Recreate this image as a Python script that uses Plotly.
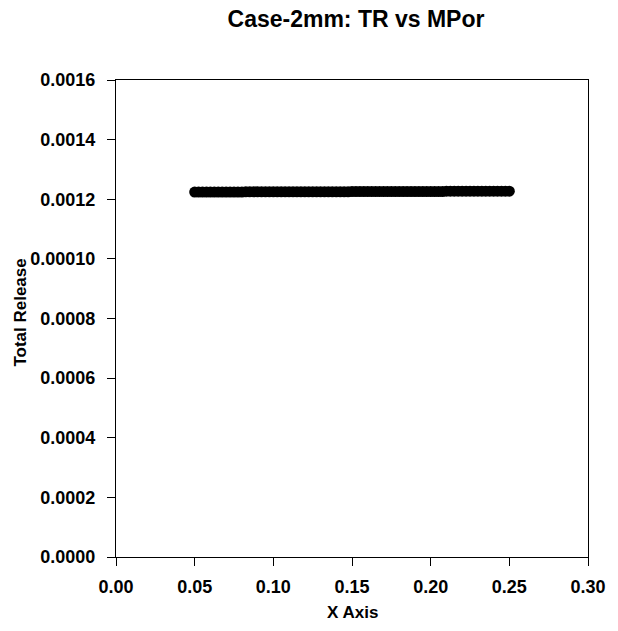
import plotly.graph_objects as go

# Data (Total Release vs porosity)
mpor = [0.0500, 0.0525, 0.0550, 0.0575, 0.0600, 0.0625, 0.0650, 0.0675, 0.0700, 0.0725,
        0.0750, 0.0775, 0.0800, 0.0825, 0.0850, 0.0875, 0.0900, 0.0925, 0.0950, 0.0975,
        0.1000, 0.1025, 0.1050, 0.1075, 0.1100, 0.1125, 0.1150, 0.1175, 0.1200, 0.1225,
        0.1250, 0.1275, 0.1300, 0.1325, 0.1350, 0.1375, 0.1400, 0.1425, 0.1450, 0.1475,
        0.1500, 0.1525, 0.1550, 0.1575, 0.1600, 0.1625, 0.1650, 0.1675, 0.1700, 0.1725,
        0.1750, 0.1775, 0.1800, 0.1825, 0.1850, 0.1875, 0.1900, 0.1925, 0.1950, 0.1975,
        0.2000, 0.2025, 0.2050, 0.2075, 0.2100, 0.2125, 0.2150, 0.2175, 0.2200, 0.2225,
        0.2250, 0.2275, 0.2300, 0.2325, 0.2350, 0.2375, 0.2400, 0.2425, 0.2450, 0.2475,
        0.2500]
total_release = [0.001224, 0.001224, 0.001224, 0.001224, 0.001224, 0.001224, 0.001224, 0.001224, 0.001224, 0.001224,
                 0.001224, 0.001224, 0.001224, 0.001225, 0.001225, 0.001225, 0.001225, 0.001225, 0.001225, 0.001225,
                 0.001225, 0.001225, 0.001225, 0.001225, 0.001225, 0.001225, 0.001225, 0.001225, 0.001225, 0.001225,
                 0.001225, 0.001225, 0.001225, 0.001225, 0.001225, 0.001225, 0.001225, 0.001225, 0.001225, 0.001225,
                 0.001226, 0.001226, 0.001226, 0.001226, 0.001226, 0.001226, 0.001226, 0.001226, 0.001226, 0.001226,
                 0.001226, 0.001226, 0.001226, 0.001226, 0.001226, 0.001226, 0.001226, 0.001226, 0.001226, 0.001226,
                 0.001226, 0.001226, 0.001226, 0.001226, 0.001227, 0.001227, 0.001227, 0.001227, 0.001227, 0.001227,
                 0.001227, 0.001227, 0.001227, 0.001227, 0.001227, 0.001227, 0.001227, 0.001227, 0.001227, 0.001227,
                 0.001227]

x_ticks = [0.00, 0.05, 0.10, 0.15, 0.20, 0.25, 0.30]
x_ticktext = ["0.00", "0.05", "0.10", "0.15", "0.20", "0.25", "0.30"]
y_ticks = [0.0000, 0.0002, 0.0004, 0.0006, 0.0008, 0.0010, 0.0012, 0.0014, 0.0016]
y_ticktext = ["0.0000", "0.0002", "0.0004", "0.0006", "0.0008", "0.00010", "0.0012", "0.0014", "0.0016"]

FONT = "Liberation Sans, Arial, sans-serif"

fig = go.Figure()
fig.add_trace(go.Scatter(
    x=mpor, y=total_release, mode="markers",
    marker=dict(size=11, color="black", line=dict(width=0)),
    showlegend=False, hoverinfo="x+y",
))

W, H = 618, 631
L, R, T, B = 116, 27, 80, 74
pw, ph = W - L - R, H - T - B

axis_common = dict(
    showgrid=False, zeroline=False, showline=True, linecolor="black", linewidth=1,
    mirror=True, ticks="outside", ticklen=8, tickcolor="black", tickwidth=1,
    tickfont=dict(family=FONT, size=18, color="black", weight="bold"),
)

fig.update_layout(
    width=W, height=H,
    margin=dict(l=L, r=R, t=T, b=B, pad=0),
    paper_bgcolor="white", plot_bgcolor="white",
    title=dict(text="Case-2mm: TR vs MPor", x=356 / W, xanchor="center",
               y=1 - 19 / H, yanchor="middle", xref="container", yref="container",
               font=dict(family=FONT, size=23, color="black", weight="bold")),
    xaxis=dict(range=[0, 0.3], tickvals=x_ticks, ticktext=x_ticktext,
               ticklabelstandoff=5, **axis_common),
    yaxis=dict(range=[0, 0.0016], tickvals=y_ticks, ticktext=y_ticktext,
               ticklabelstandoff=8, **axis_common),
    annotations=[
        dict(text="X Axis", xref="paper", yref="paper", x=0.5, y=(557 - 612) / ph,
             xanchor="center", yanchor="middle", showarrow=False,
             font=dict(family=FONT, size=17, color="black", weight="bold")),
        dict(text="Total Release", xref="paper", yref="paper", x=(19 - L) / pw,
             y=(557 - 313) / ph, xanchor="center", yanchor="middle", textangle=-90,
             showarrow=False,
             font=dict(family=FONT, size=17, color="black", weight="bold")),
    ],
)

fig.write_html("out.html")
